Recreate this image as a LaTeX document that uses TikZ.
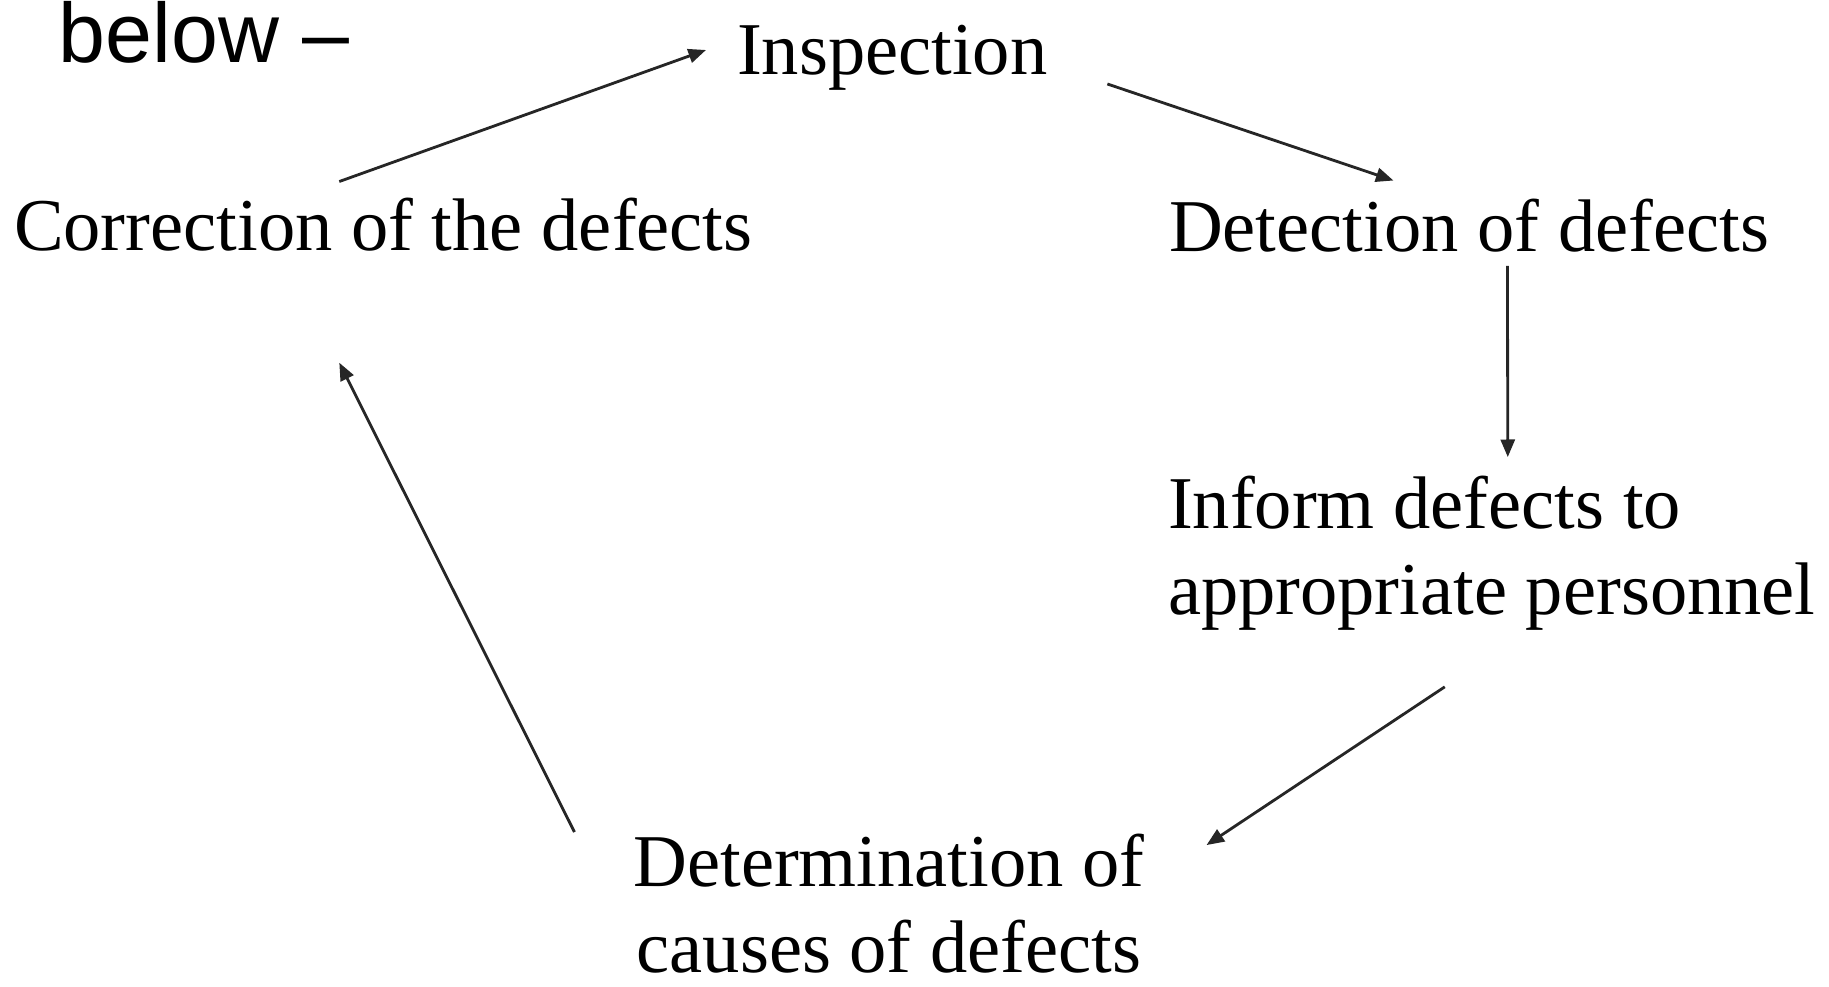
\documentclass[tikz,border=0pt]{standalone}
\usepackage{fontspec}
\setmainfont{Liberation Serif}
\newfontfamily\headsans{Liberation Sans}
\usetikzlibrary{arrows.meta}
\colorlet{myink}{black!85}

\begin{document}
\begin{tikzpicture}[
    stage/.style={inner sep=0pt, outer sep=0pt, text=black,
                  font=\fontsize{21.2}{24.6}\selectfont},
    lead/.style={inner sep=0pt, outer sep=0pt, text=black,
                 font=\headsans\fontsize{24}{28}\selectfont},
    flow/.style={-{Triangle[length=5pt,width=4pt]}, line width=0.8pt, draw=myink},
  ]
  \useasboundingbox (0,0) rectangle (18.29,9.87);

  % ------------------------------------------------------------------ text
  \node[lead, anchor=base west] (below) at (0.59,9.24) {below –};

  \node[stage, anchor=base west] (insp)   at (7.37,9.12) {Inspection};
  \node[stage, anchor=base west] (corr)   at (0.14,7.36) {Correction of the defects};
  \node[stage, anchor=base west] (detect) at (11.69,7.35) {Detection of defects};
  % the base of a two-line node sits on its last line
  \node[stage, anchor=base west, align=left] (inform) at (11.68,3.72)
        {Inform defects to\\appropriate personnel};
  \node[stage, anchor=base, align=center] (determ) at (8.89,0.14)
        {Determination of\\causes of defects};

  % ------------------------------------------------------------------ cycle
  \draw[flow] ([shift={(-0.44,0.17)}]corr.north) -- ([shift={(-0.31,0.25)}]insp.base west);
  \draw[flow] ([shift={(0.60,-0.09)}]insp.base east) -- ([shift={(-0.755,0.19)}]detect.north);
  \draw[flow] ([shift={(0.385,-0.14)}]detect.base) -- ([shift={(0.16,0.19)}]inform.north);
  \draw[flow] ([shift={(-0.47,-0.56)}]inform.south) -- ([shift={(0.62,-0.11)}]determ.north east);
  \draw[flow] ([shift={(-0.59,0.02)}]determ.north west) -- ([shift={(-0.44,-1.11)}]corr.south);

\end{tikzpicture}
\end{document}
